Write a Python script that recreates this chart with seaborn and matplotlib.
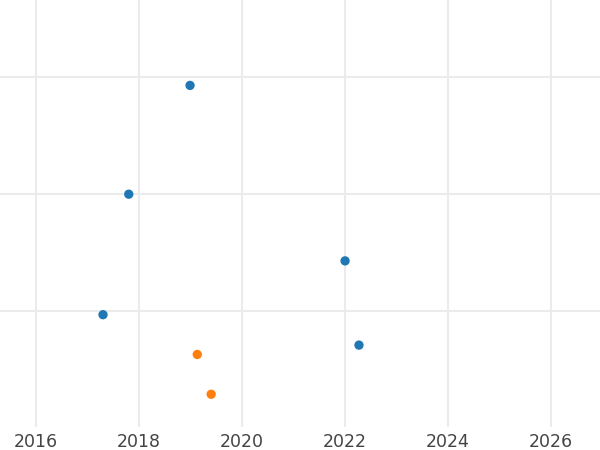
import pandas as pd
import matplotlib
matplotlib.use("Agg")
import matplotlib.pyplot as plt
import seaborn as sns

# point data
years = [2018.99, 2017.80, 2022.00, 2017.30, 2022.27, 2019.13, 2019.40]
values = [2.93, 2.00, 1.43, 0.97, 0.71, 0.63, 0.29]
groups = ["A", "A", "A", "A", "A", "B", "B"]
palette = {"A": "#1f77b4", "B": "#ff7f0e"}
xticks = [2016, 2018, 2020, 2022, 2024, 2026]
yticks = [1, 2, 3]

df = pd.DataFrame({"year": years, "value": values, "group": groups})

sns.set_theme(style="whitegrid")
plt.rcParams["font.family"] = ["DejaVu Sans"]

fig = plt.figure(figsize=(6, 4.5), dpi=100)
ax = fig.add_axes([0, 1 - 427 / 450, 1, 427 / 450])

sns.scatterplot(data=df, x="year", y="value", hue="group", palette=palette,
                s=45, linewidth=0, legend=False, ax=ax, zorder=3)

ax.set_xlim(2015.30, 2026.95)
ax.set_ylim(0.01, 3.66)
ax.set_xticks(xticks)
ax.set_xticklabels([str(t) for t in xticks])
ax.set_yticks(yticks)
ax.set_yticklabels([])
ax.set_xlabel("")
ax.set_ylabel("")
ax.grid(True, color="#ebebeb", linewidth=1.5)
ax.tick_params(axis="x", labelsize=12.5, labelcolor="#444444", length=0, pad=4)
ax.tick_params(axis="y", length=0)
for s in ax.spines.values():
    s.set_visible(False)

fig.savefig("out.png", dpi=100)
